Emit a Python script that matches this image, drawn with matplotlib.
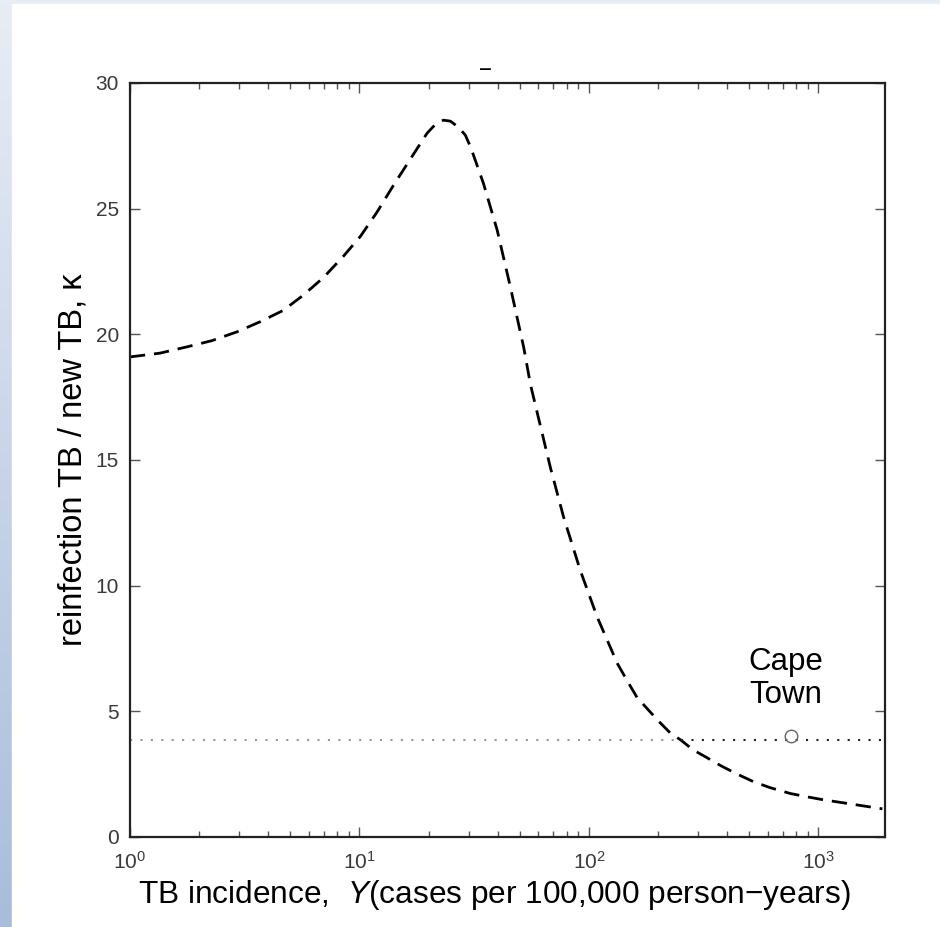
import numpy as np
import matplotlib
matplotlib.use("Agg")
import matplotlib.pyplot as plt
from matplotlib.patches import Rectangle
from matplotlib.ticker import LogLocator, NullFormatter

plt.rcParams['font.family'] = ['Liberation Sans', 'DejaVu Sans']
plt.rcParams['mathtext.fontset'] = 'custom'
plt.rcParams['mathtext.rm'] = 'Liberation Sans'
plt.rcParams['mathtext.it'] = 'Liberation Sans:italic'

# ratio curve (incidence, reinfection/new)
incidence = [1.0, 1.35, 1.77, 2.28, 2.93, 3.69, 4.65, 5.68, 6.95, 8.5, 10.1, 11.9,
             14.0, 16.6, 19.7, 21.3, 23.2, 24.9, 26.9, 28.9, 30.5, 34.7, 39.8, 45.4,
             51.9, 55.6, 67.9, 77.4, 91.7, 108.6, 133, 146, 162, 185, 204, 226, 251,
             285, 329, 373, 443, 521, 617, 754, 890, 1050, 1240, 1510, 1900]
ratio = [19.1, 19.25, 19.5, 19.75, 20.1, 20.5, 20.95, 21.55, 22.25, 23.1, 23.9, 24.85,
         25.9, 26.95, 28.0, 28.33, 28.52, 28.48, 28.25, 27.93, 27.45, 26.0, 24.15, 21.9,
         19.5, 18.0, 14.7, 12.75, 10.6, 8.75, 6.9, 6.25, 5.55, 4.97, 4.55, 4.14, 3.86,
         3.46, 3.14, 2.85, 2.5, 2.2, 1.96, 1.73, 1.6, 1.48, 1.38, 1.26, 1.12]

# observed level and Cape Town point
kappa_obs = 3.86
x_cross = 251
x_min, x_max = 1, 1950
cape_x, cape_y = 763, 4.02

fig = plt.figure(figsize=(9.4, 9.27), dpi=100)

# slide-like background: bluish gradient strip on the left, white page
bg = fig.add_axes([0, 0, 1, 1], zorder=-10)
grad = np.linspace(0, 1, 256)[:, None]
top_c = np.array([0.91, 0.93, 0.96])
bot_c = np.array([0.66, 0.74, 0.86])
img = top_c[None, None, :] * (1 - grad[..., None]) + bot_c[None, None, :] * grad[..., None]
bg.imshow(img, aspect='auto', extent=[0, 1, 0, 1], origin='upper')
bg.add_patch(Rectangle((12 / 940, 0), 1, 1 - 4 / 927, color='white'))
bg.set_xlim(0, 1)
bg.set_ylim(0, 1)
bg.axis('off')

ax = fig.add_axes([0.1383, 0.0971, 0.8032, 0.8134])
ax.set_xscale('log')

ax.plot(incidence, ratio, color='black', lw=2.0, linestyle=(0, (5.5, 3.2)))
ax.plot([x_min, x_cross], [kappa_obs, kappa_obs], color='#999999', lw=1.5,
        linestyle=(0, (1, 4.0)))
ax.plot([x_cross, x_max], [kappa_obs, kappa_obs], color='#222222', lw=1.5,
        linestyle=(0, (1, 4.0)))
ax.plot([cape_x], [cape_y], marker='o', ms=9, mfc='none', mec='#666666', mew=1)

ax.text(719, 6.3, 'Cape\nTown', fontsize=22.5, ha='center', va='center',
        linespacing=1.15)

ax.set_xlim(x_min, x_max)
ax.set_ylim(0, 30)
ax.set_yticks([0, 5, 10, 15, 20, 25, 30])
ax.xaxis.set_major_locator(LogLocator(base=10, numticks=10))
ax.xaxis.set_minor_locator(LogLocator(base=10, subs=np.arange(2, 10), numticks=20))
ax.xaxis.set_minor_formatter(NullFormatter())

ax.tick_params(which='both', direction='in', top=True, right=True,
               color='#555555', labelcolor='#3a3a3a', labelsize=15)
ax.tick_params(which='major', length=7, width=1)
ax.tick_params(which='minor', length=4, width=1)
ax.tick_params(axis='x', pad=10)
ax.tick_params(axis='y', pad=8)
for s in ax.spines.values():
    s.set_linewidth(1.6)
    s.set_color('#222222')

ax.set_xlabel('TB incidence,  $\\it{Y}$(cases per 100,000 person\u2212years)',
              fontsize=22.8, labelpad=1)
ax.xaxis.set_label_coords(0.482, -0.055)
ax.set_ylabel('reinfection TB / new TB, \u03ba', fontsize=23.5, labelpad=5)

# stray mark above the frame (cut-off title)
fig.text(486 / 940, 1 - 69 / 927, '\u2012', fontsize=14, fontweight='bold',
         ha='center', va='center')

fig.savefig('out.png', dpi=100)
